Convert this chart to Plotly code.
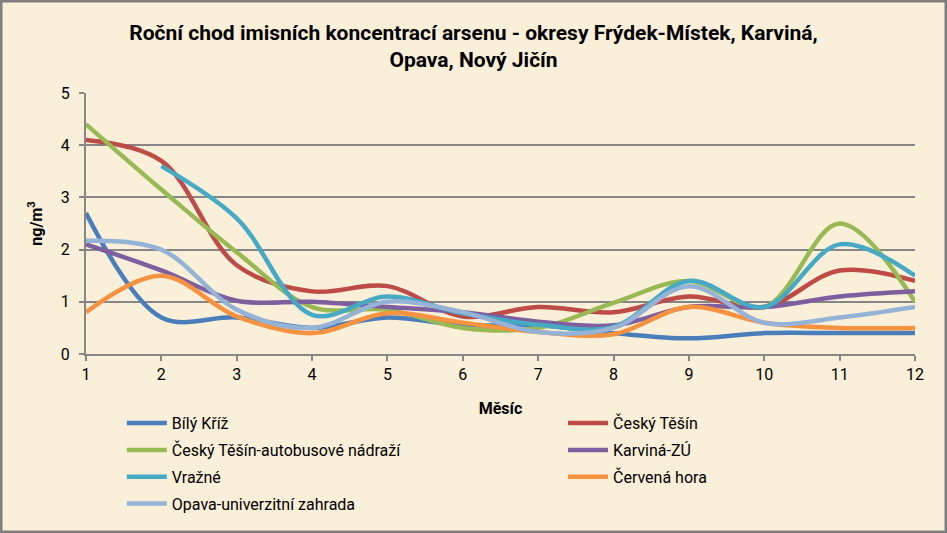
import plotly.graph_objects as go

months = [1, 2, 3, 4, 5, 6, 7, 8, 9, 10, 11, 12]
bily_kriz = [2.7, 0.7, 0.7, 0.5, 0.7, 0.55, 0.55, 0.4, 0.3, 0.4, 0.4, 0.4]
cesky_tesin = [4.1, 3.7, 1.7, 1.2, 1.3, 0.72, 0.9, 0.8, 1.1, 0.9, 1.6, 1.4]
cesky_tesin_an = [4.4, 3.15, 1.95, 0.9, 0.85, 0.5, 0.5, 0.98, 1.4, 0.9, 2.5, 1.0]
karvina = [2.1, 1.6, 1.02, 1.0, 0.9, 0.8, 0.62, 0.55, 0.9, 0.9, 1.1, 1.2]
vrazne = [None, 3.6, 2.6, 0.75, 1.1, 0.78, 0.56, 0.52, 1.4, 0.9, 2.1, 1.5]
cervena_hora = [0.8, 1.5, 0.72, 0.4, 0.78, 0.6, 0.42, 0.38, 0.9, 0.6, 0.5, 0.5]
opava = [2.17, 2.0, 0.85, 0.5, 1.0, 0.8, 0.42, 0.5, 1.3, 0.6, 0.7, 0.9]

# (name, values, colour, legend column)
series = [
    ("Bílý Kříž", bily_kriz, "#4A7EBB", "legend"),
    ("Český Těšín", cesky_tesin, "#BE4B48", "legend2"),
    ("Český Těšín-autobusové nádraží", cesky_tesin_an, "#98B954", "legend"),
    ("Karviná-ZÚ", karvina, "#7D5FA0", "legend2"),
    ("Vražné", vrazne, "#46AAC5", "legend"),
    ("Červená hora", cervena_hora, "#F69240", "legend2"),
    ("Opava-univerzitní zahrada", opava, "#95B3D7", "legend"),
]

FONT = "Roboto, Liberation Sans, sans-serif"

fig = go.Figure()
for i, (name, vals, col, lg) in enumerate(series):
    fig.add_trace(go.Scatter(
        x=months, y=vals, name=name, mode="lines", legend=lg,
        legendgroup=f"g{i}",
        line=dict(color=col, width=4.5, shape="spline", smoothing=1.0),
    ))

legend_common = dict(
    orientation="v", xanchor="left", y=-0.2, yanchor="top",
    font=dict(family=FONT, size=16), bgcolor="rgba(0,0,0,0)",
    itemwidth=40, tracegroupgap=3,
)

fig.update_layout(
    width=947, height=533,
    paper_bgcolor="#FAEFD8", plot_bgcolor="rgba(0,0,0,0)",
    margin=dict(l=86, r=32, t=93, b=179, autoexpand=False),
    font=dict(family=FONT, size=16, color="#000000"),
    title=dict(
        text="<b>Roční chod imisních koncentrací arsenu - okresy Frýdek-Místek, Karviná,<br>Opava, Nový Jičín</b>",
        x=0.5, xanchor="center", y=0.925, yanchor="top",
        font=dict(family=FONT, size=21, color="#000000"),
    ),
    xaxis=dict(
        range=[1, 12], tickvals=months, showgrid=False,
        showline=True, linecolor="#868686", linewidth=2,
        ticks="outside", ticklen=5, tickcolor="#868686", tickwidth=2,
        title=dict(text="<b>Měsíc</b>", standoff=20, font=dict(size=16)),
        zeroline=False,
    ),
    yaxis=dict(
        range=[0, 5], dtick=1, showgrid=True, gridcolor="#868686", gridwidth=2,
        showline=True, linecolor="#868686", linewidth=2,
        ticks="outside", ticklen=5, tickcolor="#868686", tickwidth=2,
        ticklabelstandoff=6,
        title=dict(text="<b>ng/m<sup>3</sup></b>", standoff=14, font=dict(size=16)),
        zeroline=False,
    ),
    legend=dict(x=0.0432, **legend_common),
    legend2=dict(x=(570 - 86 - 7) / 829, **legend_common),
    showlegend=True,
)

fig.add_shape(type="rect", xref="paper", yref="paper",
              x0=-85/829, x1=1+31/829, y0=-178/261, y1=1+92/261,
              line=dict(color="#7F7F7F", width=3), fillcolor="rgba(0,0,0,0)", layer="below")

fig.write_html("out.html", config={"displayModeBar": False},
               post_script="document.body.style.margin='0';")
